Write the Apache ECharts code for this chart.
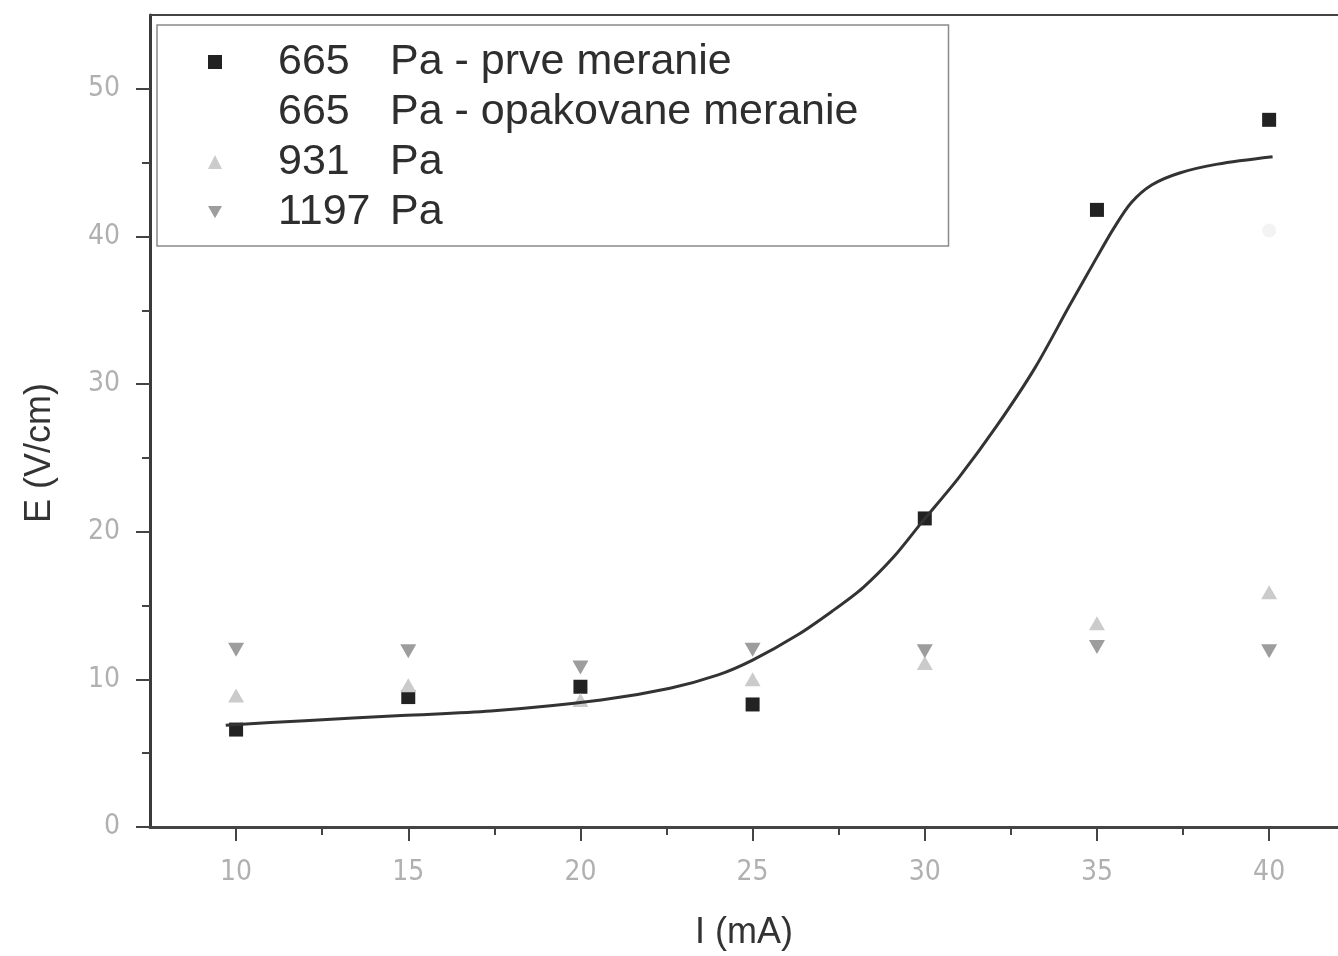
<!DOCTYPE html>
<html>
<head>
<meta charset="utf-8">
<script src="https://cdn.jsdelivr.net/npm/echarts@6/dist/echarts.min.js"></script>
<style>
  html, body { margin: 0; padding: 0; background: #fff; }
  #chart { width: 1338px; height: 956px; }
</style>
</head>
<body>
<div id="chart"></div>
<script>
// Discharge current (mA) at which each field value was measured
const currents = [10, 15, 20, 25, 30, 35, 40];

// Series names as shown in the legend
const seriesNames = [
  '665 Pa - prve meranie',
  '665 Pa - opakovane meranie',
  '931 Pa',
  '1197 Pa'
];

// Electric field E (V/cm)
const e665first = [6.6, 8.8, 9.5, 8.3, 20.9, 41.8, 47.9];
const e665repeatX = [40];
const e665repeat = [40.4];
const e931 = [8.9, 9.6, 8.6, 10.0, 11.1, 13.8, 15.9];
const e1197 = [12.0, 11.9, 10.8, 12.0, 11.9, 12.2, 11.9];

// Fitted curve through the 665 Pa measurement
const fitX = [9.7, 12, 14.8, 17.4, 20.6, 22.6, 24, 25, 26.3, 27.3, 28.2, 29.1, 29.9, 31.0, 32.1, 33.2, 34.2, 35.0, 35.5, 36.0, 36.6, 37.4, 38.5, 40.1];
const fitY = [6.9, 7.2, 7.55, 7.85, 8.6, 9.4, 10.3, 11.3, 13.0, 14.6, 16.2, 18.3, 20.6, 23.7, 27.2, 31.1, 35.3, 38.6, 40.6, 42.3, 43.5, 44.3, 44.9, 45.4];

// Tick positions
const xMajorTicks = [10, 15, 20, 25, 30, 35, 40];
const xMinorTicks = [12.5, 17.5, 22.5, 27.5, 32.5, 37.5];
const yMajorTicks = [0, 10, 20, 30, 40, 50];
const yMinorTicks = [5, 15, 25, 35, 45];

const pairs = (xs, ys) => xs.map((x, i) => [x, ys[i]]);

const downTriangle = 'path://M0,0 L16,0 L8,14 Z';
const labelFont = "'Liberation Sans Narrow', 'DejaVu Sans Condensed', 'Liberation Sans', Arial, sans-serif";
const textFont = "'Liberation Sans', Arial, sans-serif";
const axisColor = '#444444';

const chart = echarts.init(document.getElementById('chart'), null, { renderer: 'canvas' });

const xBase = { type: 'value', min: 7.5, max: 42, gridIndex: 0, splitLine: { show: false } };
const yBase = { type: 'value', min: 0, max: 55, gridIndex: 0, splitLine: { show: false } };

chart.setOption({
  backgroundColor: '#ffffff',
  animation: false,
  grid: { left: 150, top: 15, width: 1188, height: 816, show: false },
  xAxis: [
    Object.assign({}, xBase, {
      position: 'bottom',
      name: 'I (mA)',
      nameLocation: 'middle',
      nameGap: 88,
      nameTextStyle: { fontFamily: textFont, fontSize: 36, color: '#333' },
      axisLine: { show: true, onZero: false, lineStyle: { color: axisColor, width: 3 } },
      axisTick: { show: true, inside: false, length: 14, customValues: xMajorTicks, lineStyle: { color: axisColor, width: 2 } },
      axisLabel: { show: true, customValues: xMajorTicks, margin: 32, fontFamily: labelFont, fontSize: 28, color: '#b0b0b0' }
    }),
    // minor ticks along the bottom
    Object.assign({}, xBase, {
      position: 'bottom',
      axisLine: { show: false, onZero: false },
      axisTick: { show: true, length: 8, customValues: xMinorTicks, lineStyle: { color: axisColor, width: 2 } },
      axisLabel: { show: false }
    }),
    // top frame line
    Object.assign({}, xBase, {
      position: 'top',
      axisLine: { show: true, onZero: false, lineStyle: { color: axisColor, width: 2 } },
      axisTick: { show: false },
      axisLabel: { show: false }
    })
  ],
  yAxis: [
    Object.assign({}, yBase, {
      position: 'left',
      name: 'E (V/cm)',
      nameLocation: 'middle',
      nameGap: 92,
      nameRotate: 90,
      nameTextStyle: { fontFamily: textFont, fontSize: 36, color: '#333', padding: [0, 64, 0, 0] },
      axisLine: { show: true, onZero: false, lineStyle: { color: '#3a3a3a', width: 3 } },
      axisTick: { show: true, length: 14, customValues: yMajorTicks, lineStyle: { color: axisColor, width: 2 } },
      axisLabel: { show: true, customValues: yMajorTicks, margin: 30, fontFamily: labelFont, fontSize: 28, color: '#b0b0b0' }
    }),
    // minor ticks along the left side
    Object.assign({}, yBase, {
      position: 'left',
      axisLine: { show: false, onZero: false },
      axisTick: { show: true, length: 8, customValues: yMinorTicks, lineStyle: { color: axisColor, width: 2 } },
      axisLabel: { show: false }
    })
  ],
  legend: {
    data: [
      seriesNames[0],
      { name: seriesNames[1], itemStyle: { opacity: 0 } },
      seriesNames[2],
      seriesNames[3]
    ],
    orient: 'vertical',
    left: 157,
    top: 25,
    padding: [12, 90, 9, 51],
    itemGap: 0,
    itemWidth: 14,
    itemHeight: 14,
    backgroundColor: '#ffffff',
    borderColor: '#8a8a8a',
    borderWidth: 1.5,
    borderRadius: 0,
    selectedMode: false,
    formatter: function (name) {
      const i = name.indexOf(' ');
      return '{s|}{n|' + name.slice(0, i) + '}{p|' + name.slice(i + 1) + '}';
    },
    textStyle: {
      fontFamily: textFont,
      fontSize: 43,
      color: '#2e2e2e',
      lineHeight: 50,
      rich: {
        s: { width: 51, fontSize: 43, lineHeight: 50 },
        n: { width: 112, fontSize: 43, lineHeight: 50, fontFamily: textFont, color: '#2e2e2e' },
        p: { fontSize: 43, lineHeight: 50, fontFamily: textFont, color: '#2e2e2e' }
      }
    }
  },
  series: [
    {
      name: seriesNames[0],
      type: 'scatter',
      symbol: 'rect',
      symbolSize: 14,
      itemStyle: { color: '#222222', opacity: 1 },
      data: pairs(currents, e665first),
      z: 2
    },
    {
      name: seriesNames[1],
      type: 'scatter',
      symbol: 'circle',
      symbolSize: 14,
      itemStyle: { color: '#f3f3f3', opacity: 1 },
      data: pairs(e665repeatX, e665repeat),
      z: 2
    },
    {
      name: seriesNames[2],
      type: 'scatter',
      symbol: 'triangle',
      symbolSize: [16, 14],
      itemStyle: { color: '#cbcbcb', opacity: 1 },
      data: pairs(currents, e931),
      z: 3
    },
    {
      name: seriesNames[3],
      type: 'scatter',
      symbol: downTriangle,
      symbolSize: [16, 14],
      itemStyle: { color: '#9d9d9d', opacity: 1 },
      data: pairs(currents, e1197),
      z: 3
    },
    {
      name: 'fit',
      type: 'line',
      showSymbol: false,
      smooth: 0.3,
      lineStyle: { color: '#333333', width: 3 },
      data: pairs(fitX, fitY),
      z: 4
    }
  ]
});
</script>
</body>
</html>
